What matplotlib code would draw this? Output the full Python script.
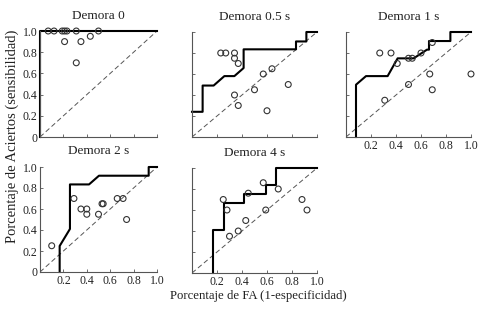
import matplotlib
matplotlib.use("Agg")
import matplotlib.pyplot as plt

plt.rcParams["font.family"] = ["Liberation Serif", "DejaVu Serif"]

titles = ["Demora 0", "Demora 0.5 s", "Demora 1 s", "Demora 2 s", "Demora 4 s"]

# scatter points (FA rate, hit rate)
fa_0 = [0.07, 0.12, 0.19, 0.21, 0.23, 0.31, 0.50, 0.21, 0.35, 0.43, 0.31]
hit_0 = [1.0, 1.0, 1.0, 1.0, 1.0, 1.0, 1.0, 0.90, 0.90, 0.95, 0.70]
fa_05 = [0.23, 0.27, 0.34, 0.34, 0.37, 0.34, 0.37, 0.50, 0.57, 0.64, 0.60, 0.77]
hit_05 = [0.80, 0.80, 0.80, 0.75, 0.70, 0.40, 0.30, 0.45, 0.60, 0.65, 0.25, 0.50]
fa_1 = [0.27, 0.36, 0.41, 0.50, 0.53, 0.60, 0.69, 0.67, 0.50, 0.69, 0.31, 1.0]
hit_1 = [0.80, 0.80, 0.70, 0.75, 0.75, 0.80, 0.90, 0.60, 0.50, 0.45, 0.35, 0.60]
fa_2 = [0.10, 0.29, 0.35, 0.40, 0.40, 0.50, 0.53, 0.54, 0.66, 0.71, 0.74]
hit_2 = [0.25, 0.70, 0.60, 0.60, 0.55, 0.55, 0.65, 0.65, 0.70, 0.70, 0.50]
fa_4 = [0.25, 0.28, 0.30, 0.37, 0.43, 0.45, 0.57, 0.59, 0.69, 0.88, 0.92]
hit_4 = [0.70, 0.60, 0.35, 0.40, 0.50, 0.76, 0.86, 0.60, 0.80, 0.70, 0.60]

# ROC curves
roc_x_0 = [0.0, 0.0, 1.0]
roc_y_0 = [0.0, 1.0, 1.0]
roc_x_05 = [0.0, 0.085, 0.085, 0.173, 0.259, 0.339, 0.413, 0.413, 0.832, 0.832, 0.915, 0.915, 1.0]
roc_y_05 = [0.24, 0.24, 0.49, 0.49, 0.58, 0.58, 0.657, 0.835, 0.835, 0.91, 0.91, 1.0, 1.0]
roc_x_1 = [0.08, 0.08, 0.16, 0.333, 0.413, 0.541, 0.648, 0.664, 0.664, 0.835, 0.835, 1.0]
roc_y_1 = [0.0, 0.498, 0.58, 0.58, 0.749, 0.749, 0.832, 0.832, 0.914, 0.914, 1.0, 1.0]
roc_x_2 = [0.168, 0.168, 0.256, 0.256, 0.419, 0.504, 0.929, 0.929, 1.0]
roc_y_2 = [0.0, 0.248, 0.41, 0.834, 0.834, 0.917, 0.917, 1.0, 1.0]
roc_x_4 = [0.168, 0.168, 0.253, 0.253, 0.419, 0.419, 0.592, 0.592, 0.675, 0.675, 1.0]
roc_y_4 = [0.0, 0.413, 0.413, 0.667, 0.667, 0.756, 0.756, 0.841, 0.841, 1.0, 1.0]

ticks = [0.2, 0.4, 0.6, 0.8, 1.0]
yticks = [0, 0.2, 0.4, 0.6, 0.8, 1.0]
ylabels = ["0", "0.2", "0.4", "0.6", "0.8", "1.0"]

W, H = 486, 311
fig = plt.figure(figsize=(W / 100, H / 100), dpi=100)

# pixel boxes: left, right, top, bottom
boxes = [(40, 157, 31, 137), (192, 317, 32, 137), (346, 471, 32, 137),
         (40, 157, 167, 272), (192, 317, 168, 273)]
panels = [(fa_0, hit_0, roc_x_0, roc_y_0), (fa_05, hit_05, roc_x_05, roc_y_05),
          (fa_1, hit_1, roc_x_1, roc_y_1), (fa_2, hit_2, roc_x_2, roc_y_2),
          (fa_4, hit_4, roc_x_4, roc_y_4)]
show_x = [False, False, True, True, True]
show_y = [True, False, False, True, False]

for i, (l, r, t, b) in enumerate(boxes):
    ax = fig.add_axes([l / W, (H - b) / H, (r - l) / W, (b - t) / H])
    fa, hit, rx, ry = panels[i]
    ax.plot([0, 1], [0, 1], color="#555555", lw=0.7, ls=(0, (5, 3)))
    ax.plot(rx, ry, color="black", lw=1.5, clip_on=False)
    ax.scatter(fa, hit, s=18, facecolors="none", edgecolors="#333333",
               linewidths=0.8, clip_on=False, zorder=3)
    ax.set_xlim(0, 1)
    ax.set_ylim(0, 1)
    ax.spines["top"].set_visible(False)
    ax.spines["right"].set_visible(False)
    for s in ("left", "bottom"):
        ax.spines[s].set_color("#555555")
        ax.spines[s].set_linewidth(0.8)
    ax.set_xticks(ticks)
    ax.set_yticks(yticks)
    ax.tick_params(direction="in", length=2.5, width=0.6, color="#555555",
                   labelsize=8.5, labelcolor="#222222", pad=2)
    if show_x[i]:
        ax.set_xticklabels(["0.2", "0.4", "0.6", "0.8", "1.0"])
    else:
        ax.set_xticklabels([])
    if show_y[i]:
        ax.set_yticklabels(ylabels)
    else:
        ax.set_yticklabels([])
    ax.set_title(titles[i], fontsize=9.5, pad=9, color="#222222")

fig.text(12 / W, (H - 136) / H, "Porcentaje de Aciertos (sensibilidad)",
         rotation=90, ha="center", va="center", fontsize=10.5, color="#222222")
fig.text(258 / W, (H - 296) / H, "Porcentaje de FA (1-especificidad)",
         ha="center", va="center", fontsize=9.2, color="#222222")

fig.savefig("out.png", dpi=100)
